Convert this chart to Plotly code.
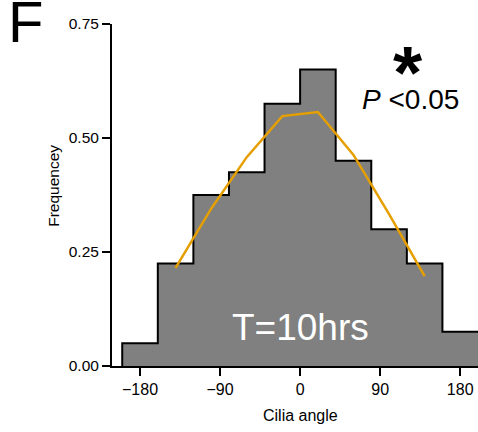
import plotly.graph_objects as go

# Data
bin_edges = [-200, -160, -120, -80, -40, 0, 40, 80, 120, 160, 200]
frequencies = [0.05, 0.225, 0.375, 0.425, 0.575, 0.65, 0.45, 0.30, 0.225, 0.075]
fit_x = [-140, -100, -60, -20, 20, 60, 100, 140]
fit_y = [0.215, 0.345, 0.458, 0.548, 0.557, 0.463, 0.333, 0.197]
x_ticks = [-180, -90, 0, 90, 180]
y_ticks = [0, 0.25, 0.5, 0.75]

# step outline built from the histogram arrays
step_x = [bin_edges[0]] + bin_edges[:-1] + [bin_edges[-1]]
step_y = [0] + frequencies + [frequencies[-1]]

fig = go.Figure()
fig.add_trace(go.Scatter(
    x=step_x, y=step_y, mode="lines", line_shape="hv",
    line=dict(color="black", width=2), fill="tozeroy", fillcolor="#808080",
    hoverinfo="skip", showlegend=False))
fig.add_trace(go.Scatter(
    x=fit_x, y=fit_y, mode="lines",
    line=dict(color="#E69F00", width=2.5), showlegend=False))

F = "Liberation Sans, Arial, sans-serif"
fig.update_layout(
    width=478, height=432,
    margin=dict(l=112, r=0, t=24, b=66, autoexpand=False),
    paper_bgcolor="white", plot_bgcolor="white",
    font=dict(family=F, color="black"),
    xaxis=dict(range=[-211.5, 200], tickvals=x_ticks, showgrid=False, zeroline=False,
               showline=True, linecolor="black", linewidth=2,
               ticks="outside", ticklen=8, tickwidth=2, tickcolor="black",
               tickfont=dict(size=16, family=F)),
    yaxis=dict(range=[0, 0.75], tickvals=y_ticks, tickformat=".2f", showgrid=False,
               zeroline=False, showline=True, linecolor="black", linewidth=2,
               ticks="outside", ticklen=8, tickwidth=2, tickcolor="black",
               tickfont=dict(size=15.5, family=F)),
    annotations=[
        dict(text="F", xref="paper", yref="paper", x=-0.235, y=1.007,
             showarrow=False, font=dict(size=58, family=F), xanchor="center", yanchor="middle"),
        dict(text="Frequencey", xref="paper", yref="paper", x=-0.162, y=0.526, textangle=-90,
             showarrow=False, font=dict(size=15.5, family=F), xanchor="center", yanchor="middle"),
        dict(text="Cilia angle", xref="x", yref="paper", x=0, y=-0.146,
             showarrow=False, font=dict(size=16, family=F), xanchor="center", yanchor="middle"),
        dict(text="T=10hrs", xref="x", yref="y", x=0, y=0.084,
             showarrow=False, font=dict(size=37, family=F, color="white"),
             xanchor="center", yanchor="middle"),
        dict(text="<i>P</i> <0.05", xref="x", yref="y", x=124, y=0.585,
             showarrow=False, font=dict(size=28, family=F), xanchor="center", yanchor="middle"),
        dict(text="<b>*</b>", xref="x", yref="y", x=121, y=0.645,
             showarrow=False, font=dict(size=75, family=F), xanchor="center", yanchor="middle"),
    ],
)
fig.write_html(
    "out.html",
    config={"displayModeBar": False},
    post_script="document.body.style.margin='0';document.body.style.overflow='hidden';",
)
